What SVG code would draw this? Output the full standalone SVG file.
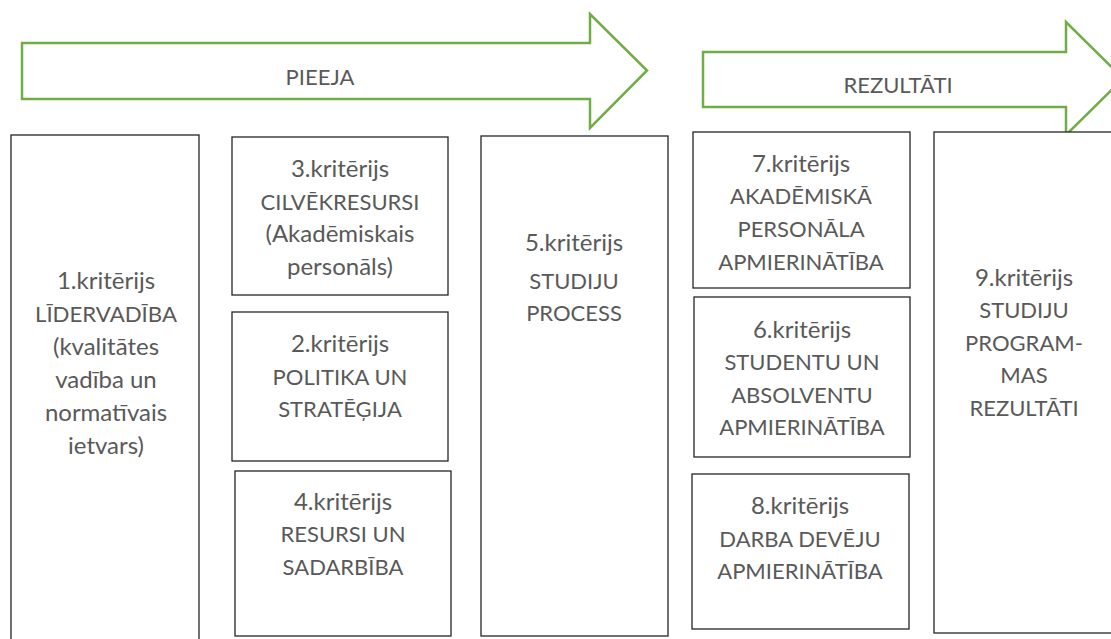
<svg xmlns="http://www.w3.org/2000/svg" width="1111" height="639" viewBox="0 0 1111 639">
<style>
.box{fill:#fff;stroke:#262626;stroke-width:1.3}
.arr{fill:#fff;stroke:#70AD47;stroke-width:2.5;stroke-linejoin:miter}
text{font-family:"Lato","Open Sans","Liberation Sans",sans-serif;font-size:22px;fill:#595959;text-anchor:middle}
text.lc{font-size:24px}
</style>
<rect width="1111" height="639" fill="#fff"/>
<g id="arrow-pieeja">
<polygon class="arr" points="22,43 590,43 590,14 647,70.5 590,128 590,99 22,99"/>
<text x="320" y="85">PIEEJA</text>
</g>
<g id="arrow-rezultati">
<polygon class="arr" points="703,52 1066,52 1066,22 1123,78.5 1066,135 1066,107 703,107"/>
<text x="898" y="93">REZULTĀTI</text>
</g>
<g id="k1">
<rect class="box" x="11" y="135" width="188" height="510"/>
<text class="lc" x="106" y="289">1.kritērijs</text>
<text x="106" y="322" textLength="142" lengthAdjust="spacingAndGlyphs">LĪDERVADĪBA</text>
<text class="lc" x="106" y="355">(kvalitātes</text>
<text class="lc" x="106" y="388">vadība un</text>
<text class="lc" x="106" y="421">normatīvais</text>
<text class="lc" x="106" y="454">ietvars)</text>
</g>
<g id="k3">
<rect class="box" x="232" y="137" width="216" height="158"/>
<text class="lc" x="340" y="177">3.kritērijs</text>
<text x="340" y="210">CILVĒKRESURSI</text>
<text class="lc" x="340" y="242">(Akadēmiskais</text>
<text class="lc" x="340" y="275">personāls)</text>
</g>
<g id="k2">
<rect class="box" x="232" y="312" width="216" height="149"/>
<text class="lc" x="340" y="352">2.kritērijs</text>
<text x="340" y="385">POLITIKA UN</text>
<text x="340" y="417">STRATĒĢIJA</text>
</g>
<g id="k4">
<rect class="box" x="235" y="471" width="216" height="165"/>
<text class="lc" x="343" y="510">4.kritērijs</text>
<text x="343" y="542">RESURSI UN</text>
<text x="343" y="575">SADARBĪBA</text>
</g>
<g id="k5">
<rect class="box" x="481" y="136" width="187" height="500"/>
<text class="lc" x="574" y="251">5.kritērijs</text>
<text x="574" y="289">STUDIJU</text>
<text x="574" y="321">PROCESS</text>
</g>
<g id="k7">
<rect class="box" x="693" y="132" width="217" height="156"/>
<text class="lc" x="801" y="172">7.kritērijs</text>
<text x="801" y="204">AKADĒMISKĀ</text>
<text x="801" y="237">PERSONĀLA</text>
<text x="801" y="270">APMIERINĀTĪBA</text>
</g>
<g id="k6">
<rect class="box" x="694" y="297" width="216" height="160"/>
<text class="lc" x="802" y="338">6.kritērijs</text>
<text x="802" y="370">STUDENTU UN</text>
<text x="802" y="403">ABSOLVENTU</text>
<text x="802" y="435">APMIERINĀTĪBA</text>
</g>
<g id="k8">
<rect class="box" x="692" y="474" width="217" height="155"/>
<text class="lc" x="800" y="514">8.kritērijs</text>
<text x="800" y="547">DARBA DEVĒJU</text>
<text x="800" y="579">APMIERINĀTĪBA</text>
</g>
<g id="k9">
<rect class="box" x="934" y="132" width="182" height="501"/>
<text class="lc" x="1024" y="286">9.kritērijs</text>
<text x="1024" y="318">STUDIJU</text>
<text x="1024" y="351">PROGRAM-</text>
<text x="1024" y="383">MAS</text>
<text x="1024" y="416">REZULTĀTI</text>
</g>
<g id="connectors"></g>
</svg>
